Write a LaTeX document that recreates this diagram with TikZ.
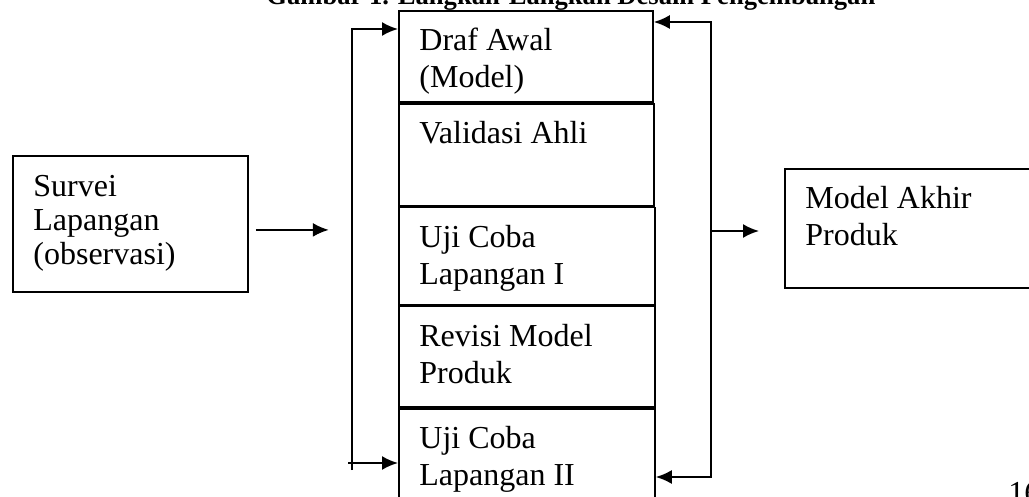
\documentclass[tikz,border=0pt]{standalone}
\usepackage{fontspec}
\setmainfont{Liberation Serif}
\usetikzlibrary{arrows.meta, positioning, calc}

\begin{document}
\begin{tikzpicture}[
    x=0.5pt, y=-0.5pt,
    % Styles kept in the picture options
    box/.style={rectangle, draw=black, line width=0.9pt, anchor=north west, inner sep=0pt},
    txt/.style={anchor=north west, inner sep=0pt, align=left, font=\fontsize{16}{18.5}\selectfont},
    judul/.style={anchor=base west, inner sep=0pt, font=\bfseries\fontsize{13.3}{16}\selectfont},
    line/.style={draw, line width=1pt, -{Latex[length=8pt, width=7pt]}},
    bus/.style={draw, line width=1pt}
]
    \useasboundingbox (0,0) rectangle (1029,497);

    % --- TITLE (cut at the top edge) ---
    \node [judul] (title) at (266,5) {Gambar 1. Langkah-Langkah Desain Pengembangan};

    % --- LEFT: FIELD SURVEY ---
    \node [box, minimum width=117.5pt, minimum height=68pt] (survei) at (12,155) {};
    \node [txt, font=\fontsize{16}{17}\selectfont] (survei_t) at ([shift={(21,20)}]survei.north west) {Survei\\Lapangan\\(observasi)};

    % --- MIDDLE: STACK OF STEPS ---
    \node [box, minimum width=127pt, minimum height=45.5pt] (draf) at (398,10) {};
    \node [box, minimum width=127.5pt, minimum height=51pt] (valid) at (draf.south west) {};
    \node [box, minimum width=128pt, minimum height=48.5pt] (uji1) at (valid.south west) {};
    \node [box, minimum width=128pt, minimum height=50.5pt] (revisi) at (uji1.south west) {};
    \node [box, minimum width=128pt, minimum height=60pt] (uji2) at (revisi.south west) {};

    \node [txt] (draf_t) at ([shift={(21,18)}]draf.north west) {Draf Awal\\(Model)};
    \node [txt] (valid_t) at ([shift={(21,18)}]valid.north west) {Validasi Ahli};
    \node [txt] (uji1_t) at ([shift={(21,18)}]uji1.north west) {Uji Coba\\Lapangan I};
    \node [txt] (revisi_t) at ([shift={(21,18)}]revisi.north west) {Revisi Model\\Produk};
    \node [txt] (uji2_t) at ([shift={(21,18)}]uji2.north west) {Uji Coba\\Lapangan II};

    % --- RIGHT: FINAL MODEL ---
    \node [box, minimum width=125pt, minimum height=59.5pt] (akhir) at (784,168) {};
    \node [txt] (akhir_t) at ([shift={(21,18)}]akhir.north west) {Model Akhir\\Produk};

    % --- page number (cut at the corner) ---
    \node [txt, anchor=base west] (hal) at (1008,503) {16};

    % --- CONNECTIONS ---
    \coordinate (ltop) at (352,29);
    \coordinate (lbot) at (352,470);
    \coordinate (lfoot) at (348,463);
    \coordinate (rtop) at (711,22);
    \coordinate (rbot) at (711,477);
    \coordinate (rmid) at (711,231);

    % survey into the stack
    \draw [line] ([shift={(7,6)}]survei.east) -- ++(73,0);

    % left loop
    \draw [line] (lbot) -- (ltop) -- (ltop -| draf.west);
    \draw [line] (lfoot) -- (lfoot -| uji2.west);

    % right loop, arrows at both ends
    \draw [line, {Latex[length=8pt, width=7pt]}-{Latex[length=8pt, width=7pt]}] (rbot -| uji2.east) -- (rbot) -- (rtop) -- (rtop -| draf.east);

    % out to the final model
    \draw [line] (rmid) -- ($(rmid -| akhir.west)+(-25,0)$);

\end{tikzpicture}
\end{document}
